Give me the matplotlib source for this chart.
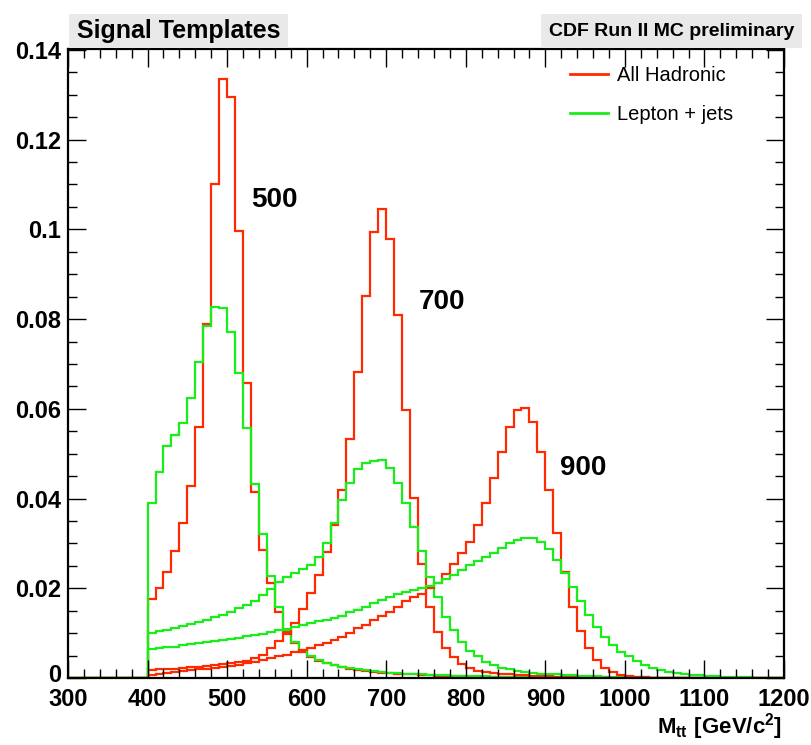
import numpy as np
import matplotlib
matplotlib.use("Agg")
import matplotlib.pyplot as plt
from matplotlib.patches import Rectangle
from matplotlib.transforms import ScaledTranslation
from matplotlib.ticker import MultipleLocator, FixedLocator, FixedFormatter

plt.rcParams['font.family'] = ['Liberation Sans', 'DejaVu Sans']
plt.rcParams['mathtext.fontset'] = 'custom'
plt.rcParams['mathtext.bf'] = 'Liberation Sans:bold'
plt.rcParams['mathtext.rm'] = 'Liberation Sans'

# bin edges: 300 .. 1200 GeV, 10 GeV bins (90 bins)
edges = np.arange(300, 1201, 10)

# values per bin, bins 300-1190
red500 = [0]*10 + [
    0.0176, 0.0200, 0.0237, 0.0283, 0.0346, 0.0428, 0.0560, 0.0790, 0.1100, 0.1335,
    0.1294, 0.0996, 0.0657, 0.0415, 0.0285, 0.0212, 0.0148, 0.0102, 0.0077, 0.0059,
    0.0047, 0.0039, 0.0033, 0.0028, 0.0024, 0.0021, 0.0018, 0.0016, 0.0014, 0.0012,
    0.0011, 0.0010, 0.0009, 0.0008, 0.0007, 0.0006, 0.0005, 0.0005, 0.0004, 0.0004,
    0.0003, 0.0003, 0.0003, 0.0002, 0.0002, 0.0002, 0.0002, 0.0001, 0.0001, 0.0001,
    0.0001, 0.0001, 0.0001, 0.0001, 0.0001, 0, 0, 0, 0, 0,
    0, 0, 0, 0, 0, 0, 0, 0, 0, 0,
    0, 0, 0, 0, 0, 0, 0, 0, 0, 0]

green500 = [0]*10 + [
    0.0391, 0.0460, 0.0516, 0.0542, 0.0568, 0.0625, 0.0705, 0.0785, 0.0828, 0.0824,
    0.0771, 0.0679, 0.0557, 0.0432, 0.0320, 0.0227, 0.0159, 0.0107, 0.0081, 0.0062,
    0.0048, 0.0040, 0.0034, 0.0029, 0.0025, 0.0022, 0.0019, 0.0017, 0.0015, 0.0013,
    0.0012, 0.0011, 0.0010, 0.0009, 0.0008, 0.0007, 0.0006, 0.0006, 0.0005, 0.0005,
    0.0004, 0.0004, 0.0004, 0.0003, 0.0003, 0.0003, 0.0003, 0.0002, 0.0002, 0.0002,
    0.0002, 0.0002, 0.0001, 0.0001, 0.0001, 0.0001, 0.0001, 0.0001, 0.0001, 0.0001,
    0.0001, 0.0001, 0.0001, 0.0001, 0, 0, 0, 0, 0, 0,
    0, 0, 0, 0, 0, 0, 0, 0, 0, 0]

red700 = [0]*10 + [
    0.0018, 0.0019, 0.0020, 0.0021, 0.0022, 0.0024, 0.0025, 0.0027, 0.0029, 0.0031,
    0.0033, 0.0036, 0.0039, 0.0044, 0.0051, 0.0066, 0.0082, 0.0098, 0.0122, 0.0154,
    0.0190, 0.0230, 0.0280, 0.0340, 0.0420, 0.0532, 0.0683, 0.0852, 0.0993, 0.1045,
    0.0978, 0.0809, 0.0597, 0.0401, 0.0254, 0.0159, 0.0102, 0.0066, 0.0047, 0.0031,
    0.0022, 0.0016, 0.0013, 0.0011, 0.0009, 0.0008, 0.0007, 0.0006, 0.0005, 0.0004,
    0.0004, 0.0003, 0.0003, 0.0003, 0.0002, 0.0002, 0.0002, 0.0002, 0.0001, 0.0001,
    0.0001, 0.0001, 0.0001, 0.0001, 0.0001, 0.0001, 0, 0, 0, 0,
    0, 0, 0, 0, 0, 0, 0, 0, 0, 0]

green700 = [0]*10 + [
    0.0100, 0.0104, 0.0108, 0.0112, 0.0116, 0.0120, 0.0125, 0.0130, 0.0135, 0.0141,
    0.0147, 0.0155, 0.0163, 0.0172, 0.0185, 0.0198, 0.0214, 0.0226, 0.0234, 0.0242,
    0.0252, 0.0270, 0.0300, 0.0345, 0.0397, 0.0435, 0.0466, 0.0480, 0.0484, 0.0486,
    0.0468, 0.0435, 0.0390, 0.0337, 0.0282, 0.0226, 0.0180, 0.0137, 0.0107, 0.0080,
    0.0060, 0.0048, 0.0036, 0.0029, 0.0023, 0.0019, 0.0016, 0.0014, 0.0012, 0.0010,
    0.0009, 0.0008, 0.0007, 0.0006, 0.0005, 0.0004, 0.0004, 0.0003, 0.0003, 0.0002,
    0.0002, 0.0002, 0.0002, 0.0001, 0.0001, 0.0001, 0.0001, 0.0001, 0.0001, 0.0001,
    0.0001, 0.0001, 0.0001, 0, 0, 0, 0, 0, 0, 0]

red900 = [0]*10 + [
    0.0007, 0.0009, 0.0011, 0.0013, 0.0015, 0.0017, 0.0019, 0.0021, 0.0023, 0.0025,
    0.0027, 0.0030, 0.0033, 0.0036, 0.0040, 0.0044, 0.0048, 0.0052, 0.0057, 0.0062,
    0.0067, 0.0073, 0.0079, 0.0085, 0.0091, 0.0100, 0.0111, 0.0118, 0.0129, 0.0138,
    0.0148, 0.0159, 0.0172, 0.0181, 0.0188, 0.0200, 0.0212, 0.0231, 0.0254, 0.0278,
    0.0304, 0.0341, 0.0389, 0.0445, 0.0504, 0.0560, 0.0597, 0.0601, 0.0570, 0.0504,
    0.0419, 0.0323, 0.0237, 0.0159, 0.0105, 0.0066, 0.0040, 0.0022, 0.0013, 0.0007,
    0.0004, 0.0003, 0.0002, 0.0001, 0.0001, 0, 0, 0, 0, 0,
    0, 0, 0, 0, 0, 0, 0, 0, 0, 0]

green900 = [0]*10 + [
    0.0064, 0.0066, 0.0068, 0.0070, 0.0073, 0.0075, 0.0077, 0.0080, 0.0083, 0.0085,
    0.0088, 0.0090, 0.0093, 0.0096, 0.0099, 0.0102, 0.0106, 0.0110, 0.0114, 0.0118,
    0.0122, 0.0126, 0.0130, 0.0134, 0.0138, 0.0146, 0.0152, 0.0159, 0.0168, 0.0174,
    0.0180, 0.0187, 0.0192, 0.0196, 0.0200, 0.0206, 0.0211, 0.0220, 0.0230, 0.0240,
    0.0251, 0.0261, 0.0270, 0.0278, 0.0289, 0.0300, 0.0308, 0.0311, 0.0313, 0.0303,
    0.0287, 0.0264, 0.0235, 0.0202, 0.0172, 0.0140, 0.0114, 0.0092, 0.0074, 0.0059,
    0.0048, 0.0037, 0.0029, 0.0023, 0.0018, 0.0014, 0.0011, 0.0009, 0.0007, 0.0006,
    0.0005, 0.0004, 0.0003, 0.0003, 0.0002, 0.0002, 0.0001, 0.0001, 0.0001, 0.0001]

peak_labels = ["500", "700", "900"]
peak_label_pos = [(560, 0.1065), (770, 0.0838), (947, 0.0468)]
legend_labels = ["All Hadronic", "Lepton + jets"]
xtick_vals = [300, 400, 500, 600, 700, 800, 900, 1000, 1100, 1200]
ytick_vals = [0, 0.02, 0.04, 0.06, 0.08, 0.10, 0.12, 0.14]
ytick_labels = ["0", "0.02", "0.04", "0.06", "0.08", "0.1", "0.12", "0.14"]

RED = '#ff2a00'
GREEN = '#1aee1a'

W, H = 812, 745
fig = plt.figure(figsize=(W / 100, H / 100), dpi=100)
L, R, B, T = 68, 784, 678, 49
ax = fig.add_axes([L / W, 1 - B / H, (R - L) / W, (B - T) / H])

lw = 1.6
ax.stairs(red500, edges, color=RED, lw=lw, baseline=0, label=legend_labels[0])
ax.stairs(green500, edges, color=GREEN, lw=lw, baseline=0, label=legend_labels[1])
ax.stairs(red700, edges, color=RED, lw=lw, baseline=0)
ax.stairs(green700, edges, color=GREEN, lw=lw, baseline=0)
ax.stairs(red900, edges, color=RED, lw=lw, baseline=0)
ax.stairs(green900, edges, color=GREEN, lw=lw, baseline=0)

ax.set_xlim(300, 1200)
ax.set_ylim(0, 0.1402)

for s in ax.spines.values():
    s.set_linewidth(1.6)

ax.xaxis.set_major_locator(FixedLocator(xtick_vals))
ax.xaxis.set_minor_locator(MultipleLocator(20))
ax.yaxis.set_major_locator(FixedLocator(ytick_vals))
ax.yaxis.set_major_formatter(FixedFormatter(ytick_labels))
ax.yaxis.set_minor_locator(MultipleLocator(0.005))
ax.tick_params(which='both', direction='in', top=True, right=True, width=1.0, color='black')
ax.tick_params(which='major', length=13)
ax.tick_params(which='minor', length=6.5)
ax.tick_params(axis='x', which='major', labelsize=17, pad=7)
ax.tick_params(axis='y', which='major', labelsize=17, pad=5)
for lab in ax.get_xticklabels() + ax.get_yticklabels():
    lab.set_fontweight('bold')

# nudge the y "0" label up a little so it does not collide with "300"
zero_lab = ax.get_yticklabels()[0]
zero_lab.set_transform(zero_lab.get_transform() + ScaledTranslation(0, 5 / 100, fig.dpi_scale_trans))

for txt, (xv, yv) in zip(peak_labels, peak_label_pos):
    ax.text(xv, yv, txt, fontsize=20, fontweight='bold', ha='center', va='center')

leg = ax.legend(loc='upper left', bbox_to_anchor=(0.69, 0.985), frameon=False,
                fontsize=14.5, handlelength=1.9, handletextpad=0.45, labelspacing=0.95,
                borderaxespad=0)
for h in leg.get_lines():
    h.set_linewidth(2.0)

# header boxes
fig.patches.append(Rectangle((69 / W, 1 - 48 / H), 219 / W, 34 / H, transform=fig.transFigure,
                             facecolor='#e9e9e9', edgecolor='none', zorder=0))
fig.text((69 + 219 / 2) / W, 1 - 31 / H, "Signal Templates", fontsize=18, fontweight='bold',
         ha='center', va='center')
fig.patches.append(Rectangle((541 / W, 1 - 48 / H), 261 / W, 34 / H, transform=fig.transFigure,
                             facecolor='#e9e9e9', edgecolor='none', zorder=0))
fig.text((541 + 261 / 2) / W, 1 - 31 / H, "CDF Run II MC preliminary", fontsize=14,
         fontweight='bold', ha='center', va='center')

fig.text(782 / W, 1 - 727 / H, r"$\mathbf{M_{tt}\ [GeV/c^{2}]}$", fontsize=16,
         ha='right', va='center')

fig.savefig("out.png", dpi=100)
